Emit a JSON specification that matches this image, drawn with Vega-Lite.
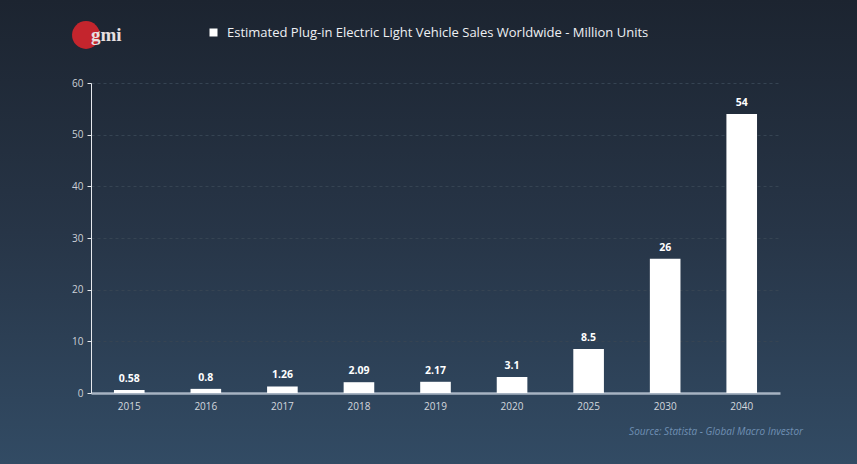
{
  "$schema": "https://vega.github.io/schema/vega-lite/v6.json",
  "width": 857,
  "height": 464,
  "autosize": {"type": "none"},
  "padding": 0,
  "background": "#26323f",
  "config": {
    "view": {
      "stroke": null,
      "fill": {
        "gradient": "linear",
        "x1": 0, "y1": 0, "x2": 0, "y2": 1,
        "stops": [
          {"offset": 0, "color": "#1c2430"},
          {"offset": 0.5, "color": "#273547"},
          {"offset": 1, "color": "#324b64"}
        ]
      }
    },
    "font": "Open Sans"
  },
  "title": {
    "text": "Source: Statista  - Global Macro Investor",
    "orient": "bottom",
    "anchor": "end",
    "offset": -37,
    "dx": -54,
    "font": "Open Sans",
    "fontSize": 10,
    "fontStyle": "italic",
    "fontWeight": "normal",
    "color": "#6f8fb3"
  },
  "data": {
    "values": [
      {"year": "2015", "sales": 0.58, "label": "0.58", "series": "Estimated Plug-in Electric Light Vehicle Sales Worldwide - Million Units", "logo": "gmi"},
      {"year": "2016", "sales": 0.8, "label": "0.8", "series": "Estimated Plug-in Electric Light Vehicle Sales Worldwide - Million Units", "logo": "gmi"},
      {"year": "2017", "sales": 1.26, "label": "1.26", "series": "Estimated Plug-in Electric Light Vehicle Sales Worldwide - Million Units", "logo": "gmi"},
      {"year": "2018", "sales": 2.09, "label": "2.09", "series": "Estimated Plug-in Electric Light Vehicle Sales Worldwide - Million Units", "logo": "gmi"},
      {"year": "2019", "sales": 2.17, "label": "2.17", "series": "Estimated Plug-in Electric Light Vehicle Sales Worldwide - Million Units", "logo": "gmi"},
      {"year": "2020", "sales": 3.1, "label": "3.1", "series": "Estimated Plug-in Electric Light Vehicle Sales Worldwide - Million Units", "logo": "gmi"},
      {"year": "2025", "sales": 8.5, "label": "8.5", "series": "Estimated Plug-in Electric Light Vehicle Sales Worldwide - Million Units", "logo": "gmi"},
      {"year": "2030", "sales": 26, "label": "26", "series": "Estimated Plug-in Electric Light Vehicle Sales Worldwide - Million Units", "logo": "gmi"},
      {"year": "2040", "sales": 54, "label": "54", "series": "Estimated Plug-in Electric Light Vehicle Sales Worldwide - Million Units", "logo": "gmi"}
    ]
  },
  "encoding": {
    "x": {
      "field": "year",
      "type": "ordinal",
      "sort": null,
      "scale": {"range": [91, 780], "paddingInner": 0.6, "paddingOuter": 0.3},
      "axis": {
        "title": null,
        "offset": -71,
        "labelAngle": 0,
        "labelFont": "Open Sans",
        "labelFontSize": 10,
        "labelColor": "#d3d8de",
        "labelPadding": 8,
        "ticks": false,
        "domainColor": "#a7b3c2",
        "domainWidth": 2.5,
        "grid": false
      }
    },
    "y": {
      "field": "sales",
      "type": "quantitative",
      "scale": {"domain": [0, 60], "range": [393, 83]},
      "axis": {
        "title": null,
        "offset": -91,
        "values": [0, 10, 20, 30, 40, 50, 60],
        "labelFont": "Open Sans",
        "labelFontSize": 10,
        "labelColor": "#ccd1d8",
        "labelPadding": 4,
        "tickColor": "#e6e9ee",
        "tickSize": 4,
        "domainColor": "#e6e9ee",
        "domainWidth": 1,
        "grid": true,
        "gridColor": "#364453",
        "gridDash": [3, 3],
        "gridWidth": 1
      }
    }
  },
  "layer": [
    {
      "mark": {"type": "bar", "color": "white"},
      "encoding": {
        "color": {
          "field": "series",
          "type": "nominal",
          "scale": {"range": ["white"]},
          "legend": {
            "title": null,
            "orient": "none",
            "legendX": 207,
            "legendY": 26,
            "symbolType": "square",
            "symbolSize": 64,
            "labelFont": "Open Sans",
            "labelFontSize": 13,
            "labelLimit": 700,
            "labelColor": "#eef0f3",
            "labelOffset": 7
          }
        }
      }
    },
    {
      "mark": {"type": "text", "dy": -6, "baseline": "bottom", "fontWeight": "bold", "fontSize": 10.5, "font": "Open Sans", "fill": "white"},
      "encoding": {
        "text": {"field": "label"}
      }
    },
    {
      "mark": {"type": "point", "filled": true, "size": 0, "opacity": 1},
      "encoding": {
        "fill": {
          "field": "logo",
          "type": "nominal",
          "scale": {"range": ["#c4252d"]},
          "legend": {
            "title": null,
            "orient": "none",
            "legendX": 72,
            "legendY": 21,
            "symbolType": "circle",
            "symbolSize": 780,
            "symbolStrokeWidth": 0,
            "labelFont": "Liberation Serif",
            "labelFontSize": 19,
            "labelFontWeight": "bold",
            "labelColor": "#e8e0e0",
            "labelOffset": -9
          }
        }
      }
    }
  ],
  "resolve": {"scale": {"color": "independent"}}
}
